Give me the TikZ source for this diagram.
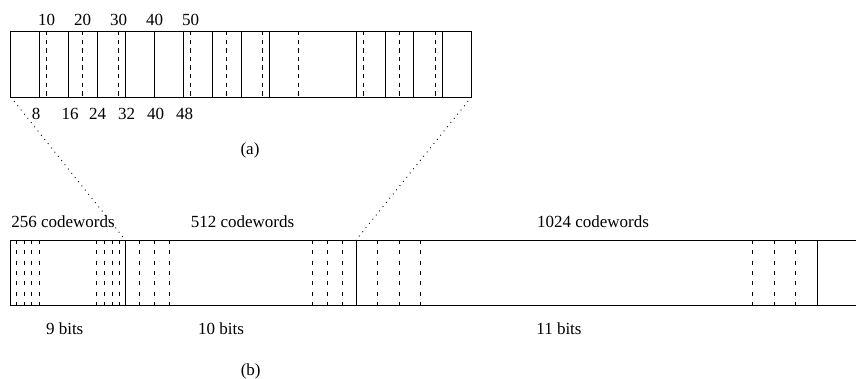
\documentclass[tikz,border=0pt]{standalone}
\usepackage{fontspec}
\setmainfont{Liberation Serif}
\usepackage{tikz}

\tikzset{
	box/.style={line width=0.9pt},
	cut/.style={line width=0.9pt, dash pattern=on 4.3pt off 4.3pt},
	fine/.style={line width=0.9pt, dash pattern=on 4pt off 6.3pt},
	zoomline/.style={line width=0.9pt, dash pattern=on 0.9pt off 4.5pt},
	lbl/.style={inner sep=0pt}
}

\begin{document}
\begin{tikzpicture}[x=1pt,y=-1pt,font=\fontsize{17}{20}\selectfont]
	\useasboundingbox (0,0) rectangle (856,378);

	% (a) one table of 16 cells
	\draw[box] (10.7,31) rectangle (471.5,97);
	\foreach \i in {1,...,9,12,13,14,15}
		\draw[box] ({10.7+\i*28.8},31) -- ({10.7+\i*28.8},97);
	\foreach \i in {1.25,2.5,3.75,6.25,7.5,8.75,10,12.25,13.5,14.75}
		\draw[cut] ({10.7+\i*28.8},31) -- ({10.7+\i*28.8},97);

	\node[lbl] (t10) at (46.7, 20) {10};
	\node[lbl] (t20) at (82.7, 20) {20};
	\node[lbl] (t30) at (118.7, 20) {30};
	\node[lbl] (t40) at (154.7, 20) {40};
	\node[lbl] (t50) at (190.7, 20) {50};

	\node[lbl] (b8)  at (36, 113.5)    {8};
	\node[lbl] (b16) at (70, 113.5)    {16};
	\node[lbl] (b24) at (97.5, 113.5)  {24};
	\node[lbl] (b32) at (126.5, 113.5) {32};
	\node[lbl] (b40) at (155.5, 113.5) {40};
	\node[lbl] (b48) at (184.5, 113.5) {48};

	\node[lbl] (capa) at (250, 150.5) {(a)};

	% (b) the three code lengths
	\draw[box] (856,240) -- (10,240) -- (10,305) -- (856,305);
	\foreach \x in {125.3,356,817.3}
		\draw[box] (\x,240) -- (\x,305);
	\foreach \x in {16.7,24,31.7,39.3,96.7,104.3,112,119.7,139.3,154.3,169.3,312.3,327.3,342.3,377.3,399,420.7,752.3,774,795.7}
		\draw[fine] (\x,240) -- (\x,305);

	\node[lbl] (cw256)  at (63, 221.7)  {256 codewords};
	\node[lbl] (cw512)  at (242.5, 221.7) {512 codewords};
	\node[lbl] (cw1024) at (593, 221.7) {1024 codewords};

	\node[lbl] (bits9)  at (64.7, 328.7) {9 bits};
	\node[lbl] (bits10) at (221, 328.7)  {10 bits};
	\node[lbl] (bits11) at (559, 328.7)  {11 bits};

	\node[lbl] (capb) at (250.7, 371.7) {(b)};

	% zoom from (a) onto (b)
	\coordinate (aleft)  at (10.7,97);
	\coordinate (aright) at (471.5,97);
	\coordinate (bleft)  at (125.3,240);
	\coordinate (bright) at (356,240);

	\path[zoomline] (aleft) edge (bleft);
	\path[zoomline] (aright) edge (bright);

\end{tikzpicture}
\end{document}
